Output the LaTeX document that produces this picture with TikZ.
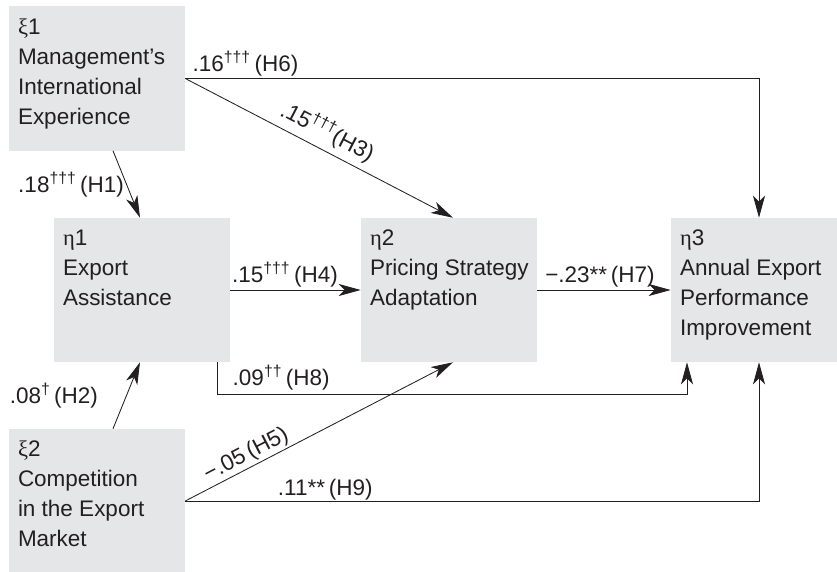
\documentclass[tikz,border=0pt]{standalone}
\usepackage{fontspec}
\setmainfont{Liberation Sans}
\newfontfamily\grk{Liberation Serif}
\usetikzlibrary{arrows.meta}

\definecolor{boxgray}{RGB}{229,230,232}
\definecolor{linegray}{RGB}{35,31,32}

\tikzset{
  latent/.style={fill=boxgray, minimum width=4.4cm, minimum height=3.6cm, inner sep=0pt},
  boxtext/.style={anchor=north west, align=left, inner xsep=0.225cm, inner ysep=0.3cm},
  link/.style={draw=linegray, line width=0.6pt,
    -{Stealth[length=0.55cm, width=0.3cm, inset=0.15cm]}},
  coef/.style={inner sep=1.5pt}
}

\begin{document}
\begin{tikzpicture}[font=\fontsize{16}{21.3}\selectfont, text=linegray]
\useasboundingbox (0,0) rectangle (20.925,14.275);

\node[latent, label={[boxtext]north west:{\grk ξ}1\\Management’s\\International\\Experience}] (xi1) at (2.425,12.3125) {};
\node[latent, label={[boxtext]north west:{\grk η}1\\Export\\Assistance}] (eta1) at (3.55,7.025) {};
\node[latent, label={[boxtext]north west:{\grk η}2\\Pricing Strategy\\Adaptation}] (eta2) at (11.225,7.025) {};
\node[latent, label={[boxtext]north west:{\grk η}3\\Annual Export\\Performance\\Improvement}] (eta3) at (18.975,7.025) {};
\node[latent, label={[boxtext]north west:{\grk ξ}2\\Competition\\in the Export\\Market}] (xi2) at (2.425,1.75) {};

\draw[link] (xi1.east) -| node[above right, coef, pos=0, xshift=0.12cm] {.16\textsuperscript{†††}\,(H6)} (eta3.north);
\draw[link] (xi1.east) -- node[above, sloped, inner sep=4pt, pos=0.5] {.15\textsuperscript{†††}(H3)} ([xshift=0.1cm]eta2.north);
\draw[link] ([xshift=0.4cm]xi1.south) -- node[left, coef] {.18\textsuperscript{†††}\,(H1)} ([xshift=-0.05cm]eta1.north);
\draw[link] (eta1.east) -- node[above, coef, pos=0.42] {.15\textsuperscript{†††}\,(H4)} (eta2.west);
\draw[link] (eta2.east) -- node[above, coef, pos=0.47] {−.23**\,(H7)} (eta3.west);
\draw[link] ([xshift=1.875cm]eta1.south) -- ++(0,-0.8) node[above right, coef, xshift=0.33cm, yshift=0.05cm] {.09\textsuperscript{††}\,(H8)} -| ([xshift=-1.8cm]eta3.south);
\draw[link] ([xshift=0.4cm]xi2.north) -- node[left, coef, xshift=-0.65cm] {.08\textsuperscript{†}\,(H2)} ([xshift=-0.05cm]eta1.south);
\draw[link] (xi2.east) -- node[above, sloped, coef, pos=0.25] {−.05\,(H5)} ([xshift=0.1cm]eta2.south);
\draw[link] (xi2.east) -| node[above, inner sep=0pt, pos=0.122] {.11**\,(H9)} (eta3.south);
\end{tikzpicture}
\end{document}
